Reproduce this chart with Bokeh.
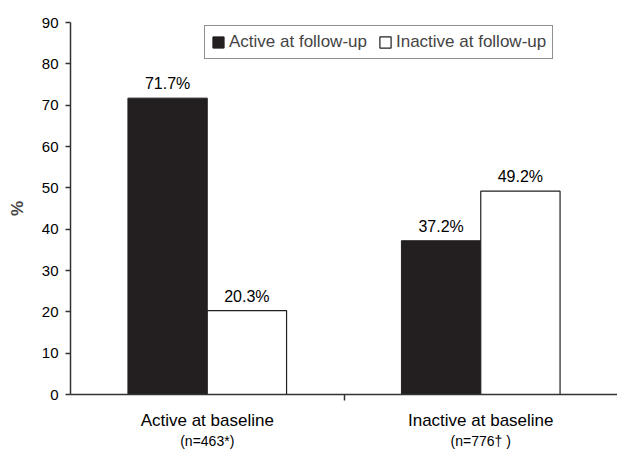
from bokeh.plotting import figure
from bokeh.models import (ColumnDataSource, FactorRange, Range1d, LinearAxis, CategoricalAxis,
                          FixedTicker, Legend, LegendItem)
from bokeh.transform import dodge
from bokeh.core.properties import value
from bokeh.embed import file_html
from bokeh.resources import INLINE

categories = ["Active at baseline", "Inactive at baseline"]
n_labels = ["(n=463*)", "(n=776\u2020 )"]
series = ["Active at follow-up", "Inactive at follow-up"]
active_followup = [71.7, 37.2]
inactive_followup = [20.3, 49.2]
y_ticks = [0, 10, 20, 30, 40, 50, 60, 70, 80, 90]

FONT = "Liberation Sans"
AXIS_COLOR = "#333333"

src = ColumnDataSource(dict(
    cat=categories,
    active=active_followup,
    inactive=inactive_followup,
    active_lbl=[f"{v}%" for v in active_followup],
    inactive_lbl=[f"{v}%" for v in inactive_followup],
))

p = figure(width=617, height=451, output_backend="svg", toolbar_location=None,
           x_range=FactorRange(*categories, range_padding=0),
           y_range=Range1d(0, 90),
           x_axis_location=None,
           min_border_left=70, min_border_right=0, min_border_top=22, min_border_bottom=55)
p.outline_line_color = None
p.xgrid.grid_line_color = None
p.ygrid.grid_line_color = None
p.background_fill_color = "white"
p.border_fill_color = "white"

# y axis
ya = p.yaxis[0]
ya.ticker = FixedTicker(ticks=y_ticks)
ya.minor_tick_line_color = None
ya.major_tick_out = 5
ya.major_tick_in = 0
ya.major_label_standoff = 7
ya.major_label_text_font = FONT
ya.major_label_text_font_size = "15px"
ya.major_label_text_color = "black"
ya.axis_line_color = AXIS_COLOR
ya.axis_line_width = 1.5
ya.major_tick_line_color = AXIS_COLOR
ya.major_tick_line_width = 1.5
ya.axis_label = "%"
ya.axis_label_text_font = FONT
ya.axis_label_text_font_style = "bold"
ya.axis_label_text_font_size = "17px"
ya.axis_label_standoff = 12

# synthetic categorical coordinates: group i spans i .. i+1
centers = [i + 0.5 for i in range(len(categories))]
boundaries = [i for i in range(1, len(categories))]

# x axis line with a tick between the two groups
tick_axis = LinearAxis(ticker=FixedTicker(ticks=[], minor_ticks=boundaries),
                       major_tick_out=0, major_tick_in=0,
                       minor_tick_out=6, minor_tick_in=0,
                       axis_line_color=AXIS_COLOR, axis_line_width=1.5,
                       major_tick_line_color=None,
                       minor_tick_line_color=AXIS_COLOR, minor_tick_line_width=1.5)
p.add_layout(tick_axis, "below")

cat_axis = CategoricalAxis(axis_line_color=None, major_tick_line_color=None,
                           major_tick_out=0, major_tick_in=0,
                           major_label_standoff=10,
                           major_label_text_font=FONT, major_label_text_font_size="17px",
                           major_label_text_color="black")
p.add_layout(cat_axis, "below")

overrides = {}
for c, lbl in zip(centers, n_labels):
    overrides[c] = lbl
    overrides[str(c)] = lbl
n_axis = LinearAxis(ticker=FixedTicker(ticks=centers),
                    axis_line_color=None, major_tick_line_color=None,
                    minor_tick_line_color=None,
                    major_tick_out=0, major_tick_in=0,
                    major_label_standoff=0,
                    major_label_overrides=overrides,
                    major_label_text_font=FONT, major_label_text_font_size="14px",
                    major_label_text_color="black")
p.add_layout(n_axis, "below")

off = 0.145
w = 0.29
r1 = p.vbar(x=dodge("cat", -off, range=p.x_range), top="active", width=w, source=src,
            fill_color="#231f20", line_color="#231f20", line_width=1)
r2 = p.vbar(x=dodge("cat", off, range=p.x_range), top="inactive", width=w, source=src,
            fill_color="white", line_color="#231f20", line_width=1.2)

for col, lbl, o in (("active", "active_lbl", -off), ("inactive", "inactive_lbl", off)):
    p.text(x=dodge("cat", o, range=p.x_range), y=col, text=lbl, source=src,
           y_offset=-6, text_align="center", text_baseline="bottom",
           text_font=value(FONT), text_font_size="16px", text_color="black")

legend = Legend(items=[LegendItem(label=series[0], renderers=[r1]),
                       LegendItem(label=series[1], renderers=[r2])],
                orientation="horizontal", location=(134, 335),
                glyph_width=14, glyph_height=14, label_standoff=4, spacing=11,
                padding=6, margin=0, label_height=13,
                label_text_font=FONT, label_text_font_size="17px",
                border_line_color="#231f20", border_line_width=1.2,
                background_fill_alpha=1)
p.add_layout(legend, "center")

open("out.html", "w").write(file_html(p, INLINE))
